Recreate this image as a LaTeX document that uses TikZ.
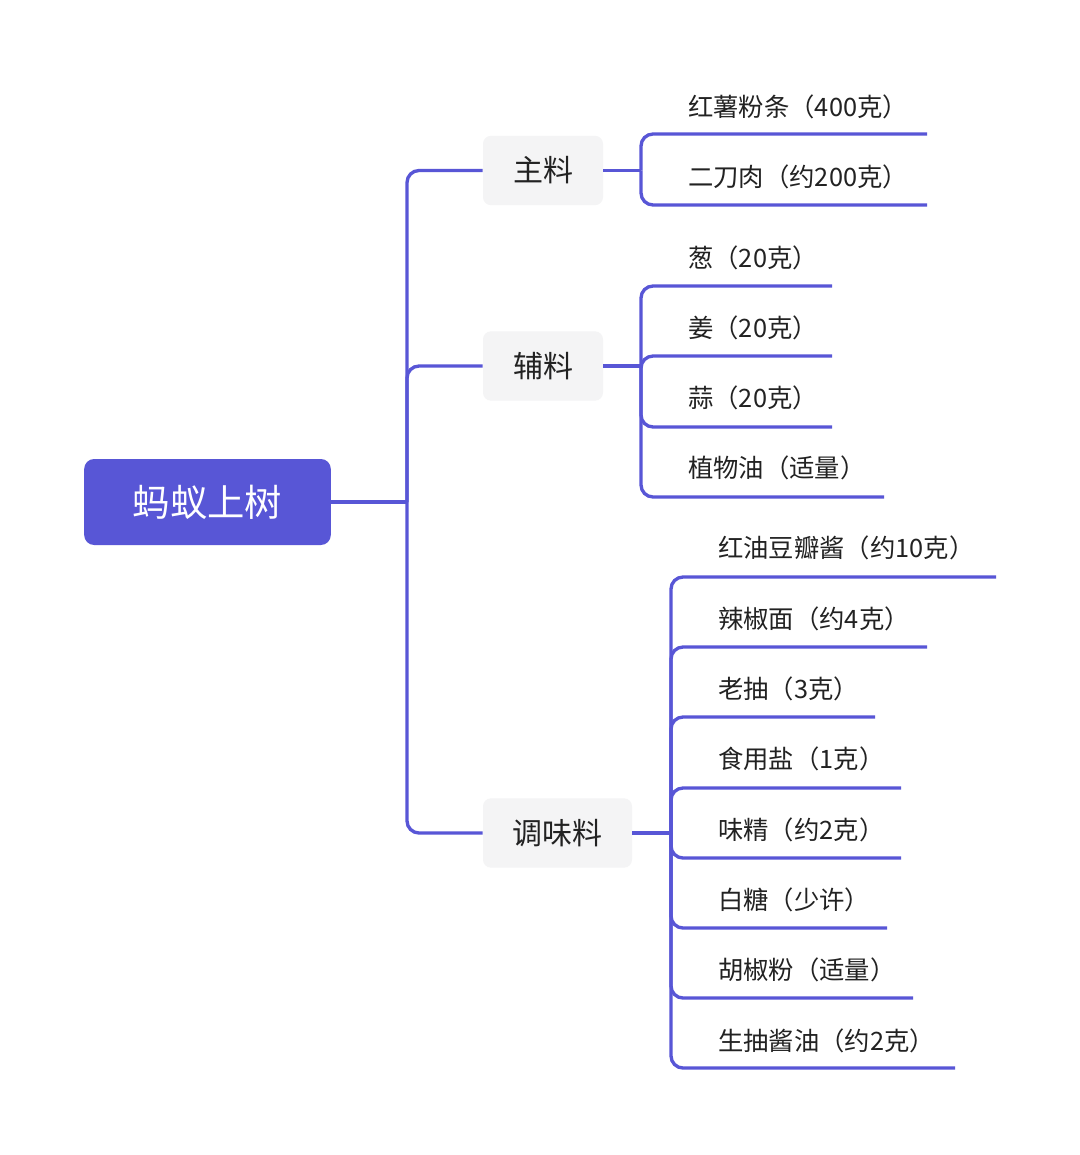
\documentclass[tikz,border=0pt]{standalone}
\usepackage{fontspec}
\setmainfont{Noto Sans CJK SC}
\definecolor{brand}{HTML}{5856D6}
\definecolor{boxgrey}{HTML}{F4F4F5}
\definecolor{ink}{HTML}{222222}
\begin{document}
\begin{tikzpicture}[x=0.75pt,y=-0.75pt,
  br/.style={draw=brand,line width=2.5pt,rounded corners=9pt},
  item/.style={anchor=west,inner sep=0pt,font=\fontsize{19}{21}\selectfont,text=ink},
  cat/.style={fill=boxgrey,rounded corners=6pt,minimum height=52pt,inner sep=0pt,font=\fontsize{22.5}{24}\selectfont,text=ink},
  rootbox/.style={fill=brand,rounded corners=7.5pt,minimum width=185pt,minimum height=64.5pt,inner sep=0pt,text=white,font=\fontsize{28}{30}\selectfont}]
\fill[white] (0,0) rectangle (1080,1155);
\useasboundingbox (0,0) rectangle (1080,1155);

\node[rootbox] (root) at (207.5,502) {蚂蚁上树};
\node[cat,minimum width=90pt] (zl) at (543,170.5) {主料};
\node[cat,minimum width=90pt] (fl) at (543,366) {辅料};
\node[cat,minimum width=111.75pt] (tw) at (557.5,833) {调味料};

\coordinate (rj) at (407,502);
\coordinate (jz) at (641,170.5);
\coordinate (jf) at (641,366);
\coordinate (jt) at (671,833);

\node[item] (a1) at (688,107) {红薯粉条（400克）};
\node[item] (a2) at (688,177) {二刀肉（约200克）};
\coordinate (e1) at (927,134);
\coordinate (e2) at (927,205);

\node[item] (b1) at (688,258) {葱（20克）};
\node[item] (b2) at (688,328) {姜（20克）};
\node[item] (b3) at (688,398) {蒜（20克）};
\node[item] (b4) at (688,468) {植物油（适量）};
\coordinate (f1) at (832,286);
\coordinate (f2) at (832,356);
\coordinate (f3) at (832,427);
\coordinate (f4) at (884,497);

\node[item] (c1) at (718,548) {红油豆瓣酱（约10克）};
\node[item] (c2) at (718,619) {辣椒面（约4克）};
\node[item] (c3) at (718,689) {老抽（3克）};
\node[item] (c4) at (718,759) {食用盐（1克）};
\node[item] (c5) at (718,830) {味精（约2克）};
\node[item] (c6) at (718,900) {白糖（少许）};
\node[item] (c7) at (718,970) {胡椒粉（适量）};
\node[item] (c8) at (718,1041) {生抽酱油（约2克）};
\coordinate (g1) at (996,577);
\coordinate (g2) at (927,647);
\coordinate (g3) at (875,717);
\coordinate (g4) at (901,788);
\coordinate (g5) at (901,858);
\coordinate (g6) at (887,928);
\coordinate (g7) at (913,998);
\coordinate (g8) at (955,1068);

\draw[br] (root.east) -- (rj);
\draw[br] (rj) |- (zl.west);
\draw[br] (rj) |- (fl.west);
\draw[br] (rj) |- (tw.west);

\draw[br] (zl.east) -- (jz);
\foreach \e in {e1,e2} \draw[br] (jz) |- (\e);
\draw[br] (fl.east) -- (jf);
\foreach \e in {f1,f2,f3,f4} \draw[br] (jf) |- (\e);
\draw[br] (tw.east) -- (jt);
\foreach \e in {g1,g2,g3,g4,g5,g6,g7,g8} \draw[br] (jt) |- (\e);
\end{tikzpicture}
\end{document}
